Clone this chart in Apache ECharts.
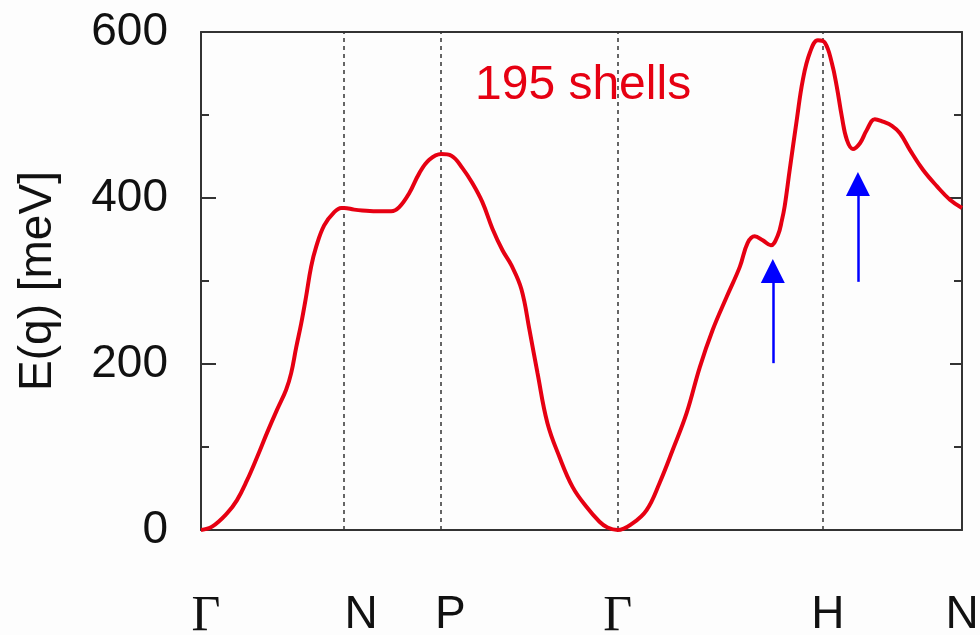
<!DOCTYPE html>
<html>
<head>
<meta charset="utf-8">
<script src="https://cdn.jsdelivr.net/npm/echarts@6/dist/echarts.min.js"></script>
<style>
  html, body { margin: 0; padding: 0; background: #fdfdfd; }
  #chart { width: 980px; height: 635px; }
</style>
</head>
<body>
<div id="chart"></div>
<script>
// Phonon branch along the BCC path Γ–N–P–Γ–H–N (path length in units of 2π/a)
const pathPos = [
  0.000, 0.055, 0.129, 0.179, 0.229, 0.279, 0.328, 0.378, 0.423, 0.448,
  0.473, 0.498, 0.522, 0.547, 0.572, 0.612, 0.662, 0.697, 0.711, 0.761,
  0.801, 0.886, 0.945, 0.985, 1.035, 1.085, 1.134, 1.194, 1.244, 1.299,
  1.348, 1.398, 1.448, 1.498, 1.542, 1.592, 1.632, 1.672, 1.721, 1.781,
  1.846, 1.915, 1.980, 2.020, 2.070, 2.144, 2.214, 2.279, 2.343, 2.413,
  2.478, 2.542, 2.612, 2.677, 2.716, 2.751, 2.791, 2.831, 2.866, 2.886,
  2.900, 2.925, 2.960, 2.990, 3.025, 3.065, 3.100, 3.134, 3.159, 3.184,
  3.209, 3.239, 3.274, 3.308, 3.348, 3.388, 3.433, 3.473, 3.522, 3.587,
  3.657, 3.721, 3.781
];
const energy = [
  0, 4, 20, 36, 60, 88, 117, 145, 169, 189,
  220, 249, 281, 317, 341, 367, 383, 388, 388, 386,
  385, 384, 384, 389, 406, 430, 446, 453, 451, 436,
  418, 395, 363, 337, 319, 290, 241, 189, 129, 88,
  52, 28, 10, 3, 0, 8, 24, 57, 96, 141,
  196, 241, 281, 317, 346, 354, 349, 343, 355, 373,
  390, 434, 494, 542, 575, 590, 587, 563, 534, 498,
  470, 459, 466, 482, 495, 492, 487, 478, 458, 434,
  414, 398, 388
];

// High-symmetry points and their labels
const symPoints = [0, 0.711, 1.189, 2.070, 3.090, 3.781];
const symLabels = ['Γ', 'N', 'P', 'Γ', 'H', 'N'];
const labelPos = [0.025, 0.796, 1.239, 2.070, 3.114, 3.781];

// Energy axis ticks
const yTicks = [0, 200, 400, 600];

// Blue arrows marking the dips
const arrowX = [2.841, 3.264];
const arrowTail = [201, 299];
const arrowHead = [312, 417];

const annotation = '195 shells';

const chart = echarts.init(document.getElementById('chart'));

const axisColor = '#333333';
const sans = '"Liberation Sans", Arial, sans-serif';
const serif = '"Liberation Serif", "DejaVu Serif", serif';

function labelFor(v) {
  let best = 0;
  for (let i = 1; i < labelPos.length; i++) {
    if (Math.abs(labelPos[i] - v) < Math.abs(labelPos[best] - v)) best = i;
  }
  const t = symLabels[best];
  return t === 'Γ' ? '{g|' + t + '}' : '{s|' + t + '}';
}

chart.setOption({
  backgroundColor: '#fdfdfd',
  animation: false,
  title: {
    text: annotation,
    left: 470,
    top: 57,
    textStyle: { color: '#e60012', fontFamily: sans, fontSize: 48, fontWeight: 'normal' }
  },
  grid: {
    left: 201, right: 18, top: 32, bottom: 105,
    containLabel: false,
    outerBoundsMode: 'none'
  },
  xAxis: [
    {
      type: 'value',
      min: symPoints[0],
      max: symPoints[symPoints.length - 1],
      position: 'bottom',
      axisLine: { show: true, onZero: false, lineStyle: { color: axisColor, width: 2 } },
      axisTick: { show: false },
      splitLine: { show: false },
      axisLabel: {
        customValues: labelPos,
        margin: 62,
        formatter: labelFor,
        rich: {
          g: { fontFamily: serif, fontSize: 50, color: '#111' },
          s: { fontFamily: sans, fontSize: 46, color: '#111' }
        }
      }
    },
    {
      type: 'value',
      min: symPoints[0],
      max: symPoints[symPoints.length - 1],
      position: 'top',
      axisLine: { show: true, onZero: false, lineStyle: { color: axisColor, width: 2 } },
      axisTick: { show: false },
      axisLabel: { show: false },
      splitLine: { show: false }
    }
  ],
  yAxis: [
    {
      type: 'value',
      min: 0,
      max: 600,
      interval: 200,
      position: 'left',
      name: 'E(q) [meV]',
      nameLocation: 'middle',
      nameGap: 140,
      nameRotate: 90,
      nameTextStyle: { fontFamily: sans, fontSize: 46, color: '#111' },
      axisLine: { show: true, onZero: false, lineStyle: { color: axisColor, width: 2 } },
      axisTick: { show: true, inside: true, length: 15, lineStyle: { color: axisColor, width: 2 } },
      minorTick: { show: true, splitNumber: 2, length: 8, lineStyle: { color: axisColor, width: 2 } },
      splitLine: { show: false },
      axisLabel: {
        customValues: yTicks,
        margin: 33,
        fontFamily: sans,
        fontSize: 46,
        color: '#111'
      }
    },
    {
      type: 'value',
      min: 0,
      max: 600,
      interval: 200,
      position: 'right',
      axisLine: { show: true, onZero: false, lineStyle: { color: axisColor, width: 2 } },
      axisTick: { show: true, inside: true, length: 12, lineStyle: { color: axisColor, width: 2 } },
      minorTick: { show: true, splitNumber: 2, length: 8, lineStyle: { color: axisColor, width: 2 } },
      splitLine: { show: false },
      axisLabel: { show: false }
    }
  ],
  series: [
    {
      name: 'guides',
      type: 'line',
      data: [],
      markLine: {
        silent: true,
        symbol: ['none', 'none'],
        label: { show: false },
        lineStyle: { color: '#333', type: [4, 4], width: 1.5 },
        data: symPoints.slice(1, -1).map(v => ({ xAxis: v }))
      },
      z: 1
    },
    {
      name: 'E(q)',
      type: 'line',
      data: pathPos.map((x, i) => [x, energy[i]]),
      showSymbol: false,
      smooth: 0.4,
      lineStyle: { color: '#e60012', width: 4 },
      z: 5
    },
    {
      name: 'arrows',
      type: 'line',
      data: [],
      markLine: {
        silent: true,
        symbol: ['none', 'triangle'],
        symbolSize: 24,
        label: { show: false },
        lineStyle: { color: '#0000ff', type: 'solid', width: 2.5 },
        itemStyle: { color: '#0000ff' },
        data: arrowX.map((x, i) => [
          { coord: [x, arrowTail[i]] },
          { coord: [x, arrowHead[i]] }
        ])
      },
      z: 6
    }
  ]
});
</script>
</body>
</html>
